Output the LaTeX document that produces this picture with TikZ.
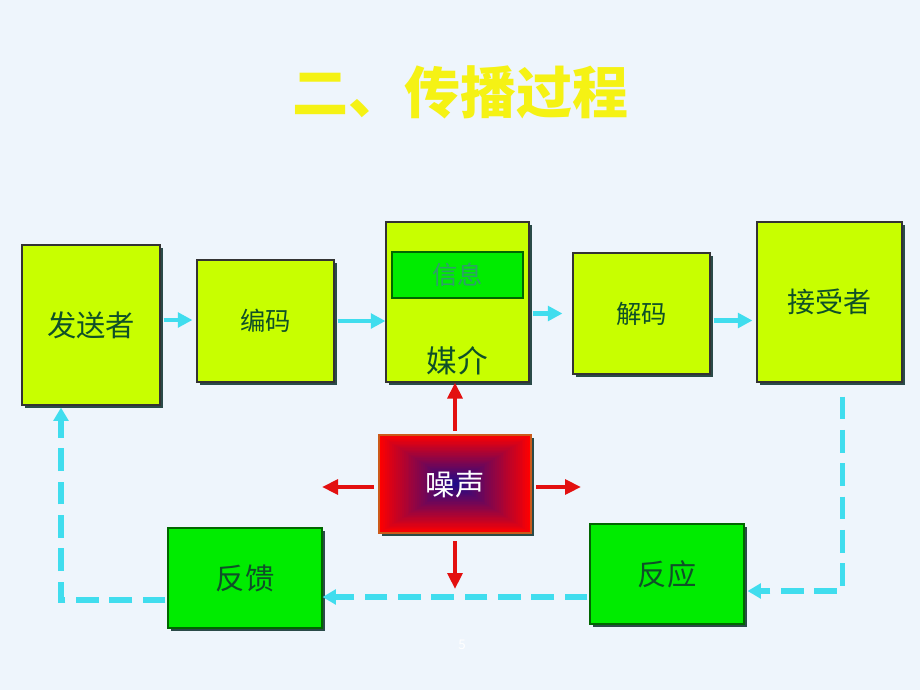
\documentclass[tikz,border=0pt]{standalone}
\usepackage{fontspec}
\newfontfamily\cjk{Noto Sans CJK SC}
\usetikzlibrary{arrows.meta,shadows,positioning,calc}
\definecolor{bgc}{HTML}{EEF5FC}
\definecolor{limec}{HTML}{C8FF00}
\definecolor{grnc}{HTML}{00EC00}
\definecolor{txtc}{HTML}{0F5028}
\definecolor{infotxt}{HTML}{2E9E6A}
\definecolor{shdc}{HTML}{2A4A48}
\definecolor{cyc}{HTML}{40DDEE}
\definecolor{redc}{HTML}{E31010}
\definecolor{nzout}{HTML}{FF0000}
\definecolor{nzin}{HTML}{1A0A8C}
\definecolor{nzbd}{HTML}{CC5A1A}
\definecolor{titlec}{HTML}{F5F214}
\newcommand{\fsz}[1]{\cjk\fontsize{#1}{#1}\selectfont}
\tikzset{
  box/.style={draw=black!80, line width=0.8pt, inner sep=0pt, text=txtc,
    font=\fsz{19pt}, general shadow={fill=shdc, shadow xshift=2.2pt, shadow yshift=-2.2pt}},
  lbox/.style={box, fill=limec},
  gbox/.style={box, fill=grnc, draw=black!60!green},
  cyarr/.style={draw=cyc, line width=3.5pt, -{Triangle[length=11pt,width=11pt]}},
  dsh/.style={draw=cyc, line width=4pt, dash pattern=on 17pt off 8pt},
  redarr/.style={draw=redc, line width=3.5pt, -{Triangle[length=12pt,width=11pt]}},
}

\begin{document}
\begin{tikzpicture}[x=0.75pt,y=-0.75pt]
\def\px{0.75pt}
\fill[bgc] (0,0) rectangle (920,690);
\useasboundingbox (0,0) rectangle (920,690);

\node[text=titlec, font=\fsz{42pt}\bfseries] (title) at (460,92) {二、传播过程};

\node[lbox, minimum width=138*\px, minimum height=160*\px, font=\fsz{22pt}] (sender) at (91,325) {发送者};
\node[lbox, minimum width=137*\px, minimum height=122*\px] (enc) at (265.5,321) {编码};
\node[lbox, minimum width=143*\px, minimum height=160*\px] (media) at (457.5,302) {};
\node[draw=black!60!green, line width=0.8pt, fill=grnc, text=infotxt, font=\fsz{19pt},
  minimum width=131*\px, minimum height=46*\px, inner sep=0pt] (info) at (457.5,275) {信息};
\node[text=txtc, font=\fsz{23pt}, inner sep=0pt] (medtxt) at ([yshift=22*\px]media.south) {媒介};
\node[lbox, minimum width=137*\px, minimum height=121*\px] (dec) at (641.5,313.5) {解码};
\node[lbox, minimum width=145*\px, minimum height=160*\px, font=\fsz{21pt}] (recv) at (829.5,302) {接受者};

\node[draw=nzbd, line width=1.5pt, inner sep=0pt, text=white, font=\fsz{22pt},
  minimum width=152*\px, minimum height=98*\px,
  general shadow={fill=shdc, shadow xshift=2.5pt, shadow yshift=-2.5pt},
  path picture={
    \foreach \i in {0,...,40}{
      \pgfmathsetmacro{\t}{\i/40}
      \pgfmathsetmacro{\p}{100*\t^0.95}
      \pgfmathsetmacro{\h}{\t/2}
      \fill[nzin!\p!nzout]
        ($(path picture bounding box.south west)!\h!(path picture bounding box.north east)$)
        rectangle
        ($(path picture bounding box.north east)!\h!(path picture bounding box.south west)$);
    }}] (noise) at (455,484) {噪声};

\node[gbox, minimum width=154*\px, minimum height=100*\px, font=\fsz{22pt}] (fb) at (245,578) {反馈};
\node[gbox, minimum width=154*\px, minimum height=100*\px, font=\fsz{22pt}] (resp) at (667,574) {反应};

\node[text=white, font=\fsz{10pt}] (pgno) at (462,645) {5};

% forward chain
\draw[cyarr] ([xshift=3*\px,yshift=5*\px]sender.east) -- ([xshift=-4*\px,yshift=5*\px]sender.east -| enc.west);
\draw[cyarr] ([xshift=3*\px]enc.east) -- (enc.east -| media.west);
\draw[cyarr] ([xshift=3*\px]media.east |- dec.west) -- ([xshift=-10*\px]dec.west);
\draw[cyarr] ([xshift=3*\px,yshift=-7*\px]dec.east) -- ([xshift=-4*\px,yshift=-7*\px]dec.east -| recv.west);

% feedback loop
\draw[dsh, -{Triangle[length=10pt,width=11pt]}] ([xshift=13*\px,yshift=-14*\px]recv.south)
  |- ([xshift=3*\px,yshift=-17*\px]resp.east);
\draw[dsh, -{Triangle[length=10pt,width=11pt]}] ([xshift=-2*\px,yshift=-23*\px]resp.west)
  -- ([yshift=-23*\px]resp.west -| fb.east);
\draw[dsh, -{Triangle[length=10pt,width=11pt]}] ([xshift=-2*\px,yshift=-22*\px]fb.west)
  -| ([xshift=-30*\px,yshift=-2*\px]sender.south);

% noise
\coordinate (nzl) at (322,487);
\coordinate (nzr) at (581,487);
\coordinate (nzd) at (455,589);
\draw[redarr] ([yshift=3*\px]noise.north) -- (noise.north |- media.south);
\draw[redarr] ([xshift=-4*\px,yshift=-3*\px]noise.west) -- (nzl);
\draw[redarr] ([xshift=4*\px,yshift=-3*\px]noise.east) -- (nzr);
\draw[redarr] ([yshift=-7*\px]noise.south) -- (nzd);
\end{tikzpicture}
\end{document}
